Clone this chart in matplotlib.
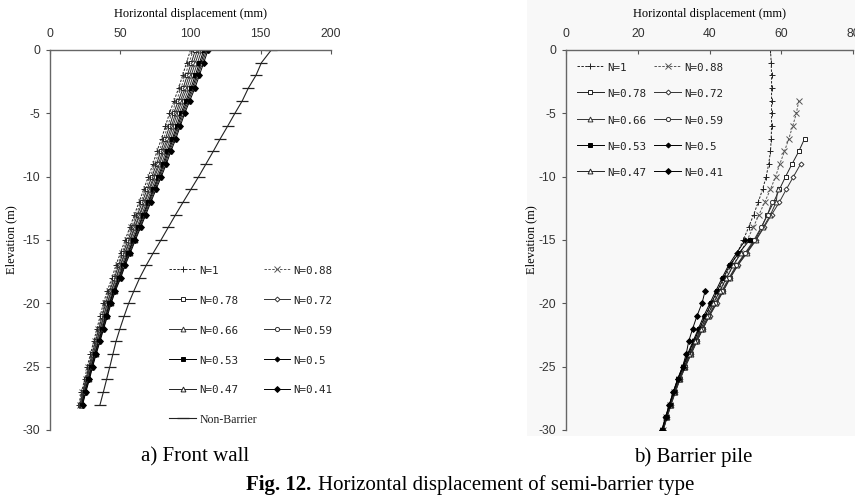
import numpy as np
import matplotlib.pyplot as plt
from matplotlib.patches import Rectangle

# ---- data: front wall (a) ----
depth_wall = [0, -1, -2, -3, -4, -5, -6, -7, -8, -9, -10, -11, -12, -13, -14,
              -15, -16, -17, -18, -19, -20, -21, -22, -23, -24, -25, -26, -27, -28]

wall_n1 = [100, 97.2, 94.4, 91.6, 88.3, 85.0, 82.2, 79.4, 76.1, 73.3, 70.0, 66.7, 63.4, 60.1, 56.8,
           53.5, 50.2, 46.9, 44.1, 40.8, 38.0, 35.7, 33.4, 31.1, 28.8, 26.5, 24.7, 22.4, 20.5]
wall_n088 = [102, 99.1, 96.2, 93.3, 90.0, 86.6, 83.8, 80.9, 77.6, 74.7, 71.4, 68.0, 64.7, 61.3, 58.0,
             54.7, 51.4, 48.1, 45.2, 41.9, 39.1, 36.7, 34.4, 32.0, 29.6, 27.3, 25.4, 23.0, 21.0]
wall_n078 = [103.5, 100.6, 97.7, 94.8, 91.4, 88.0, 85.1, 82.2, 78.8, 75.9, 72.5, 69.1, 65.7, 62.3, 59.0,
             55.6, 52.2, 48.8, 45.9, 42.5, 39.6, 37.2, 34.8, 32.4, 30.0, 27.6, 25.7, 23.3, 21.3]
wall_n072 = [105, 102.1, 99.1, 96.2, 92.8, 89.4, 86.5, 83.5, 80.1, 77.2, 73.8, 70.4, 67.0, 63.6, 60.1,
             56.7, 53.3, 49.9, 47.0, 43.6, 40.7, 38.2, 35.7, 33.3, 30.8, 28.2, 26.2, 23.7, 21.6]
wall_n066 = [106.5, 103.5, 100.5, 97.5, 94.0, 90.6, 87.6, 84.6, 81.1, 78.1, 74.6, 71.1, 67.6, 64.1, 60.6,
             57.2, 53.7, 50.2, 47.2, 43.8, 40.8, 38.3, 35.8, 33.4, 30.9, 28.4, 26.4, 24.0, 22.0]
wall_n059 = [108, 105, 102, 99, 95.4, 91.9, 88.9, 85.9, 82.4, 79.4, 75.8, 72.3, 68.8, 65.3, 61.8,
             58.2, 54.7, 51.2, 48.2, 44.7, 41.7, 39.1, 36.6, 34.1, 31.6, 29.0, 27.0, 24.4, 22.3]
wall_n053 = [109.5, 106.4, 103.4, 100.3, 96.7, 93.2, 90.1, 87.1, 83.5, 80.4, 76.9, 73.3, 69.8, 66.2, 62.7,
             59.1, 55.5, 52.0, 48.9, 45.3, 42.3, 39.7, 37.2, 34.6, 32.0, 29.5, 27.4, 24.8, 22.6]
wall_n05 = [110.5, 107.4, 104.4, 101.3, 97.7, 94.1, 91.0, 87.9, 84.3, 81.2, 77.6, 74.0, 70.4, 66.8, 63.2,
            59.6, 56.0, 52.5, 49.4, 45.7, 42.6, 40.1, 37.5, 34.9, 32.3, 29.7, 27.6, 25.0, 22.8]
wall_n047 = [111.5, 108.4, 105.3, 102.2, 98.6, 95.0, 91.9, 88.8, 85.1, 82.0, 78.4, 74.7, 71.1, 67.5, 63.9,
             60.2, 56.6, 53.0, 49.8, 46.2, 43.1, 40.5, 37.9, 35.2, 32.6, 30.0, 27.8, 25.2, 23.0]
wall_n041 = [112.5, 109.4, 106.3, 103.2, 99.5, 95.9, 92.7, 89.6, 86.0, 82.8, 79.2, 75.5, 71.8, 68.2, 64.5,
             60.8, 57.2, 53.5, 50.3, 46.6, 43.5, 40.9, 38.2, 35.6, 32.9, 30.3, 28.1, 25.5, 23.2]
wall_nonbarrier = [157.5, 150.5, 146.6, 141.2, 136.9, 131.6, 126.5, 121.2, 116.2, 111.0, 105.8, 100.3, 94.8, 89.4, 84.2,
                   79.0, 73.6, 68.5, 63.8, 59.8, 56.0, 52.8, 49.8, 47.0, 44.8, 42.6, 40.3, 38.0, 35.6]

# ---- data: barrier pile (b) ----
pile_n1_d = list(range(0, -31, -1))
pile_n1 = [57.0, 57.2, 57.3, 57.3, 57.3, 57.3, 57.3, 57.2, 57.0, 56.5, 55.8, 54.8, 53.6, 52.3, 50.9, 49.4,
           47.8, 46.0, 44.2, 42.5, 40.7, 38.9, 37.3, 35.7, 34.2, 32.8, 31.3, 30.1, 29.0, 27.9, 26.9]
pile_n088_d = list(range(-4, -31, -1))
pile_n088 = [64.9, 64.2, 63.2, 62.1, 60.9, 59.6, 58.4, 57.0, 55.4, 53.8, 52.2, 50.5, 48.6, 46.6, 44.8, 43.0,
             41.2, 39.3, 37.6, 36.0, 34.5, 33.0, 31.5, 30.2, 29.1, 28.0, 27.0]
pile_n078_d = list(range(-7, -31, -1))
pile_n078 = [66.5, 64.9, 63.0, 61.2, 59.5, 57.9, 56.1, 54.5, 52.7, 50.2, 47.6, 45.6, 43.7, 41.8, 39.8, 38.1,
             36.4, 34.8, 33.2, 31.7, 30.4, 29.2, 28.1, 27.1]
pile_n072_d = list(range(-9, -31, -1))
pile_n072 = [65.4, 63.4, 61.4, 59.5, 57.3, 55.2, 53.0, 50.5, 47.9, 45.8, 43.9, 42.0, 40.0, 38.2, 36.5, 34.9,
             33.3, 31.8, 30.5, 29.3, 28.2, 27.1]
pile_n066_d = list(range(-11, -31, -1))
pile_n066 = [59.0, 58.6, 57.0, 55.0, 52.9, 50.4, 47.8, 45.7, 43.8, 41.9, 39.9, 38.1, 36.4, 34.8, 33.2, 31.7,
             30.4, 29.2, 28.1, 27.1]
pile_n059_d = list(range(-12, -31, -1))
pile_n059 = [57.4, 56.2, 54.4, 52.4, 50.0, 47.5, 45.4, 43.5, 41.6, 39.7, 37.9, 36.2, 34.6, 33.1, 31.6, 30.3,
             29.1, 28.0, 27.0]
pile_n053_d = list(range(-15, -31, -1))
pile_n053 = [51.2, 48.3, 45.6, 43.9, 42.2, 40.5, 38.8, 37.2, 35.6, 34.1, 32.7, 31.2, 30.0, 28.9, 27.8, 26.8]
pile_n05_d = list(range(-15, -31, -1))
pile_n05 = [50.0, 47.6, 45.3, 43.5, 41.8, 40.1, 38.4, 36.9, 35.4, 33.9, 32.5, 31.1, 29.9, 28.8, 27.7, 26.7]
pile_n047_d = list(range(-16, -31, -1))
pile_n047 = [48.9, 46.6, 44.7, 42.9, 41.1, 39.3, 37.6, 36.0, 34.4, 33.0, 31.5, 30.2, 29.1, 28.0, 27.0]
pile_n041_d = list(range(-19, -31, -1))
pile_n041 = [38.8, 37.9, 36.5, 35.3, 34.2, 33.5, 32.5, 31.1, 29.9, 28.8, 27.8, 26.8]

labels = ['N=1', 'N=0.88', 'N=0.78', 'N=0.72', 'N=0.66', 'N=0.59',
          'N=0.53', 'N=0.5', 'N=0.47', 'N=0.41']

# styles for each N series (marker, filled, linestyle, colour, size)
estilos = [
    dict(marker='+', mfc='none', ls=(0, (2.5, 1.5)), color='#222222', ms=5),
    dict(marker='x', mfc='none', ls=(0, (2.5, 1.5)), color='#555555', ms=4.5),
    dict(marker='s', mfc='white', ls='-', color='#222222', ms=3.5),
    dict(marker='D', mfc='white', ls='-', color='#333333', ms=2.5),
    dict(marker='^', mfc='white', ls='-', color='#333333', ms=3.5),
    dict(marker='o', mfc='white', ls='-', color='#333333', ms=3),
    dict(marker='s', mfc='black', ls='-', color='black', ms=3.5),
    dict(marker='D', mfc='black', ls='-', color='black', ms=2.5),
    dict(marker='^', mfc='white', ls='-', color='#222222', ms=3.5),
    dict(marker='D', mfc='black', ls='-', color='black', ms=3),
]

plt.rcParams['font.family'] = ['Liberation Sans', 'DejaVu Sans']
plt.rcParams['axes.unicode_minus'] = False
fig = plt.figure(figsize=(8.55, 4.99), dpi=100)

# light grey background of the second picture
fig.patches.append(Rectangle((527 / 855, 1 - 436 / 499), 1 - 527 / 855, 436 / 499,
                             transform=fig.transFigure, facecolor='#f8f8f8',
                             edgecolor='none', zorder=-5))


def preparar_eixo(ax, xmax, xstep, ylab_x):
    ax.set_facecolor('none')
    ax.set_xlim(0, xmax)
    ax.set_ylim(-30, 0)
    ax.set_xticks(np.arange(0, xmax + 1, xstep))
    ax.set_yticks(np.arange(-30, 1, 5))
    ax.xaxis.tick_top()
    ax.xaxis.set_label_position('top')
    ax.tick_params(axis='x', direction='in', length=3, colors='#555555', labelsize=8.7,
                   labelcolor='#333333', pad=7)
    ax.tick_params(axis='y', direction='out', length=3, colors='#555555', labelsize=8.7,
                   labelcolor='#333333', pad=4)
    for s in ['right', 'bottom']:
        ax.spines[s].set_visible(False)
    for s in ['left', 'top']:
        ax.spines[s].set_color('#666666')
        ax.spines[s].set_linewidth(1.0)
    ax.set_xlabel('Horizontal displacement (mm)', family='Liberation Serif', fontsize=9,
                  labelpad=8)
    ax.set_ylabel('Elevation (m)', family='Liberation Serif', fontsize=9)
    ax.yaxis.set_label_coords(ylab_x, 0.5)


def arrumar_legenda(leg):
    for t in leg.get_texts():
        if t.get_text() == 'Non-Barrier':
            t.set_family('Liberation Serif')
            t.set_fontsize(8.5)
        else:
            t.set_family('DejaVu Sans Mono')
            t.set_fontsize(7.8)
        t.set_color('#222222')


# ---- a) front wall ----
ax1 = fig.add_axes([50 / 855, 1 - 430 / 499, 281 / 855, 380 / 499])
preparar_eixo(ax1, 200, 50, -0.115)
wall_series = [wall_n1, wall_n088, wall_n078, wall_n072, wall_n066, wall_n059,
               wall_n053, wall_n05, wall_n047, wall_n041]
h1 = []
for vals, lab, st in zip(wall_series, labels, estilos):
    ln, = ax1.plot(vals, depth_wall, lw=0.7, mew=0.7, label=lab, **st)
    h1.append(ln)
nb, = ax1.plot(wall_nonbarrier, depth_wall, color='#222222', lw=0.8, marker='_', ms=9,
               mew=0.9, label='Non-Barrier')
ordem1 = [h1[0], h1[2], h1[4], h1[6], h1[8], nb, h1[1], h1[3], h1[5], h1[7], h1[9]]
leg1 = ax1.legend(handles=ordem1, ncol=2, loc='upper left', bbox_to_anchor=(0.405, 0.45),
                  frameon=False, handlelength=1.9, handletextpad=0.25, columnspacing=0.5,
                  labelspacing=1.3, borderaxespad=0)
arrumar_legenda(leg1)

# ---- b) barrier pile ----
ax2 = fig.add_axes([566 / 855, 1 - 430 / 499, 287 / 855, 380 / 499])
preparar_eixo(ax2, 80, 20, -0.1)
pile_series = [(pile_n1, pile_n1_d), (pile_n088, pile_n088_d), (pile_n078, pile_n078_d),
               (pile_n072, pile_n072_d), (pile_n066, pile_n066_d), (pile_n059, pile_n059_d),
               (pile_n053, pile_n053_d), (pile_n05, pile_n05_d), (pile_n047, pile_n047_d),
               (pile_n041, pile_n041_d)]
h2 = []
for (vals, dd), lab, st in zip(pile_series, labels, estilos):
    ln, = ax2.plot(vals, dd, lw=0.7, mew=0.7, label=lab, **st)
    h2.append(ln)
ordem2 = [h2[0], h2[2], h2[4], h2[6], h2[8], h2[1], h2[3], h2[5], h2[7], h2[9]]
leg2 = ax2.legend(handles=ordem2, ncol=2, loc='upper left', bbox_to_anchor=(0.02, 0.985),
                  frameon=False, handlelength=1.9, handletextpad=0.25, columnspacing=0.6,
                  labelspacing=1.05, borderaxespad=0)
arrumar_legenda(leg2)

# ---- captions ----
fig.text(195 / 855, 1 - 457 / 499, 'a) Front wall', family='Liberation Serif', fontsize=15,
         ha='center', va='center')
fig.text(693 / 855, 1 - 457 / 499, 'b) Barrier pile', family='Liberation Serif', fontsize=15,
         ha='center', va='center')
fig.text(246 / 855, 1 - 485 / 499, 'Fig. 12.', family='Liberation Serif', fontsize=15,
         fontweight='bold', ha='left', va='center')
fig.text(318 / 855, 1 - 485 / 499, 'Horizontal displacement of semi-barrier type',
         family='Liberation Serif', fontsize=15, ha='left', va='center')

fig.savefig('out.png', dpi=100)
